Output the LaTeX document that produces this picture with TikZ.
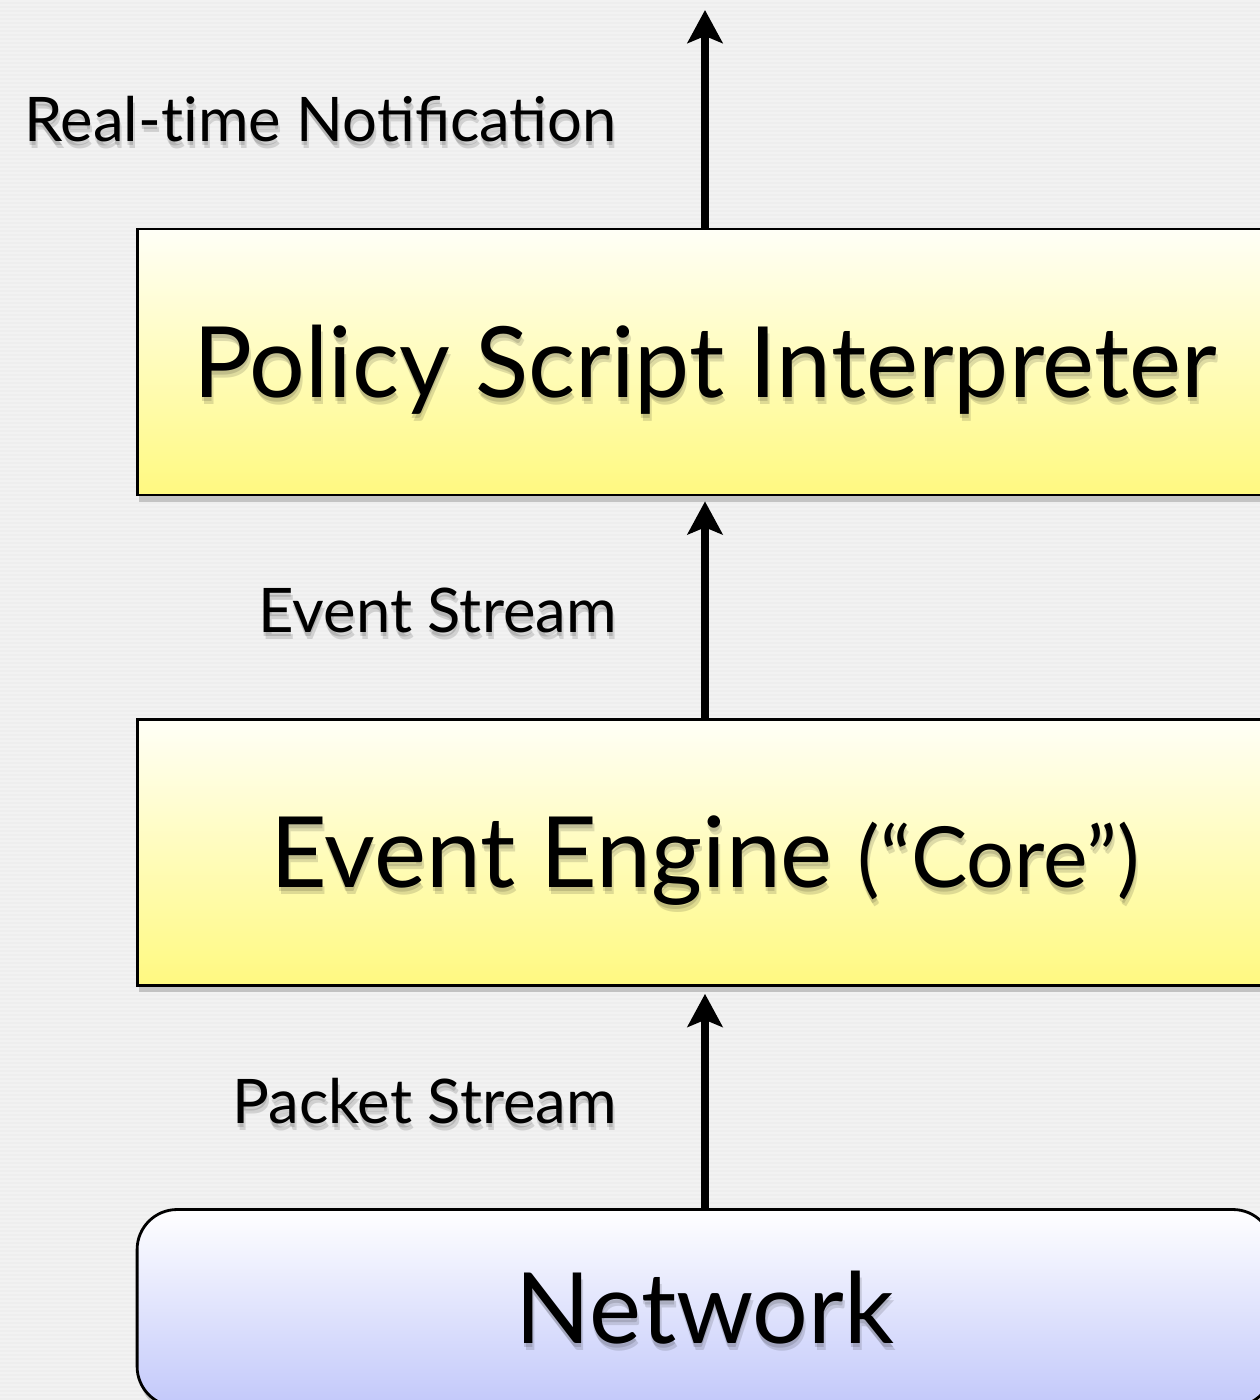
\documentclass[tikz,border=0pt]{standalone}
\usepackage{fontspec}
\setmainfont{Lato}
\usetikzlibrary{arrows.meta, shadows, positioning}

\definecolor{bgGray}{RGB}{238,238,238}
\definecolor{stripeGray}{RGB}{242,242,242}
\definecolor{yellowTop}{RGB}{255,255,247}
\definecolor{yellowBottom}{RGB}{255,249,128}
\definecolor{blueTop}{RGB}{255,255,255}
\definecolor{blueBottom}{RGB}{194,200,250}

\tikzset{
  bigtext/.style={inner sep=0pt, font=\fontsize{56}{64}\selectfont, text height=40pt, text depth=0pt},
  layer/.style={bigtext, draw=black, line width=1.6pt, minimum width=22.72cm, minimum height=5.32cm,
    top color=yellowTop, bottom color=yellowBottom,
    drop shadow={shadow xshift=0.04cm, shadow yshift=-0.14cm, opacity=0.4}},
  netlayer/.style={layer, minimum height=3.94cm, rounded corners=0.8cm,
    top color=blueTop, bottom color=blueBottom},
  streamlabel/.style={anchor=base east, inner sep=0pt, font=\fontsize{35}{42}\selectfont},
  ghost/.style={text opacity=0.13},
  flow/.style={line width=4pt, -{Stealth[length=0.66cm, width=0.7cm, inset=0.14cm]}},
}
\newcommand{\coretag}{{\fontsize{48}{56}\selectfont(“Core”)}}
\newcommand{\realtime}{Real-t\kern0pt ime Notification}

\begin{document}
\begin{tikzpicture}[x=0.02cm, y=-0.02cm]
    % Background with pinstripes
    \clip (0,0) rectangle (1260,1400);
    \fill[bgGray] (0,0) rectangle (1260,1400);
    \foreach \y in {0,4,...,1396} {
        \fill[stripeGray] (0,\y) rectangle (1260,\y+2);
    }

    % The three layers
    \node[layer] (policy) at (705,362) {Policy Script Interpreter};
    \node[layer] (engine) at (705,852.5) {Event Engine \coretag};
    \node[netlayer] (network) at (705,1308) {Network};
    \coordinate (notify) at (705,10);

    % Soft shadows under the texts
    \foreach \dx/\dy in {0/4, 2/7} {
        \node[bigtext, ghost] at (705+\dx,362+\dy) {Policy Script Interpreter};
        \node[bigtext, ghost] at (705+\dx,852.5+\dy) {Event Engine \coretag};
        \node[bigtext, ghost] at (705+\dx,1308+\dy) {Network};
        \node[streamlabel, ghost] at (617+\dx,141+\dy) {\realtime};
        \node[streamlabel, ghost] at (617+\dx,632+\dy) {Event Stream};
        \node[streamlabel, ghost] at (617+\dx,1123+\dy) {Packet Stream};
    }

    % Flows between layers
    \draw[flow] (policy.north) -- (notify);
    \draw[flow, shorten >=0.1cm] (engine.north) -- (policy.south);
    \draw[flow, shorten >=0.14cm] (network.north) -- (engine.south);

    % Labels of the flows
    \node[streamlabel] (notifylabel) at (617,141) {\realtime};
    \node[streamlabel] (eventlabel) at (617,632) {Event Stream};
    \node[streamlabel] (packetlabel) at (617,1123) {Packet Stream};
\end{tikzpicture}
\end{document}
